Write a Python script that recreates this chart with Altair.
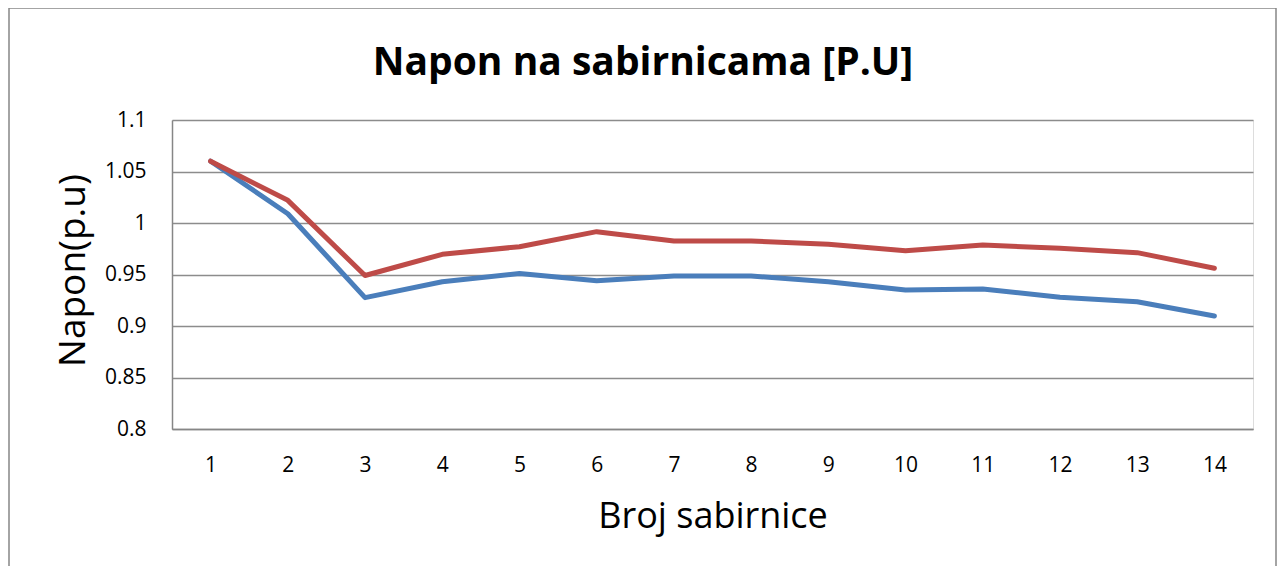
import altair as alt
import pandas as pd

buses = list(range(1, 15))
series_blue = [1.06, 1.009, 0.9275, 0.943, 0.951, 0.944, 0.9485, 0.9485, 0.943, 0.935, 0.936, 0.928, 0.9235, 0.9097]
series_red = [1.06, 1.022, 0.949, 0.9696, 0.977, 0.9916, 0.9825, 0.9825, 0.9793, 0.973, 0.9786, 0.9754, 0.9712, 0.956]
series_names = ["Serija 1", "Serija 2"]
y_ticks = [0.8, 0.85, 0.9, 0.95, 1.0, 1.05, 1.1]
chart_title = ["Napon na sabirnicama [P.U]"]

rows = []
for b, v in zip(buses, series_blue):
    rows.append({"bus": b, "napon": v, "serija": series_names[0], "ord": 0})
for b, v in zip(buses, series_red):
    rows.append({"bus": b, "napon": v, "serija": series_names[1], "ord": 1})
df = pd.DataFrame(rows)

FONT = "Open Sans"
W, H = 1081, 309

frame = alt.Chart(pd.DataFrame({"k": [0]})).mark_rect(
    fill="transparent", stroke="#868686", strokeWidth=1.5
).encode(
    x=alt.value(-163), x2=alt.value(1104), y=alt.value(-112), y2=alt.value(480)
)

title = alt.Chart(pd.DataFrame({"t": chart_title})).mark_text(
    font=FONT, fontSize=39, fontWeight="bold", color="#000000",
    align="center", baseline="alphabetic"
).encode(text="t:N", x=alt.value(643 - 172), y=alt.value(75 - 120))

lines = alt.Chart(df).mark_line(strokeWidth=5, strokeCap="round", strokeJoin="round").encode(
    x=alt.X("bus:O", title="Broj sabirnice",
            axis=alt.Axis(labelAngle=0, ticks=False, grid=False, domainColor="#868686",
                          domainWidth=1.5, labelPadding=25, labelFontSize=21,
                          labelFont=FONT, labelColor="#000000",
                          titleFont=FONT, titleFontSize=36, titleFontWeight="normal",
                          titleColor="#000000", titlePadding=24),
            scale=alt.Scale(paddingInner=0, paddingOuter=0.5)),
    y=alt.Y("napon:Q", title="Napon(p.u)",
            scale=alt.Scale(domain=[0.8, 1.1], nice=False, zero=False),
            axis=alt.Axis(values=y_ticks, format="~g", ticks=False, grid=True,
                          gridColor="#8c8c8c", gridWidth=1.5, domainColor="#868686",
                          domainWidth=1.5, labelPadding=26, labelFontSize=21,
                          labelFont=FONT, labelColor="#000000",
                          titleFont=FONT, titleFontSize=37, titleFontWeight="normal",
                          titleColor="#000000", titleX=-80, titleY=150)),
    color=alt.Color("serija:N", legend=None,
                    scale=alt.Scale(domain=series_names, range=["#4A7EBB", "#BE4B48"])),
    order=alt.Order("ord:Q"),
)

chart = alt.layer(frame, title, lines).properties(
    width=W, height=H,
    autosize=alt.AutoSizeParams(type="none"),
    padding={"left": 164, "top": 112, "right": 24, "bottom": 140},
).configure_view(stroke=None).configure(background="white")

chart.save("out.html", embed_options={"renderer": "svg", "actions": False})
